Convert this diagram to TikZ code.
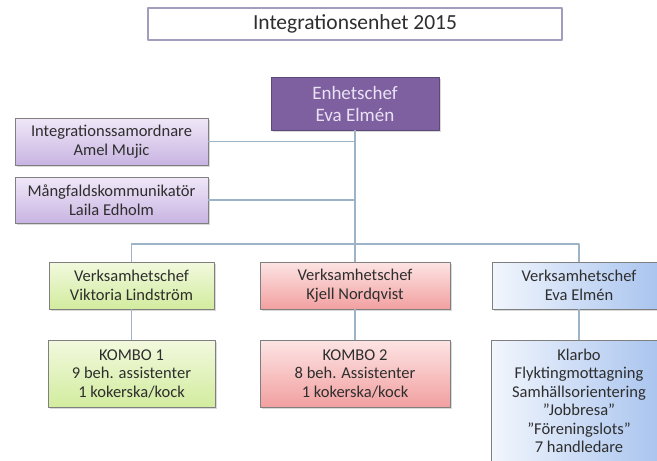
\documentclass[tikz,border=0pt]{standalone}
\usepackage{fontspec}
\setmainfont{Carlito}
\usepackage{tikz}
\usetikzlibrary{shadows}

\definecolor{titleedge}{HTML}{A49CBC}
\definecolor{chefpurple}{HTML}{7E60A0}
\definecolor{chefedge}{HTML}{5B4A78}
\definecolor{cheftext}{HTML}{EAE2F4}
\definecolor{stafftop}{HTML}{F0E8F8}
\definecolor{staffbot}{HTML}{C8B4E2}
\definecolor{greentop}{HTML}{F2F9DE}
\definecolor{greenbot}{HTML}{D2EC9E}
\definecolor{redtop}{HTML}{FDE4E4}
\definecolor{redbot}{HTML}{F2A0A0}
\definecolor{blueleft}{HTML}{F2F6FD}
\definecolor{blueright}{HTML}{A6C2EE}
\definecolor{boxedge}{HTML}{7F7F7F}
\definecolor{boxtext}{HTML}{2E2E2E}
\definecolor{linkline}{HTML}{9DB3C8}

\begin{document}
\begin{tikzpicture}[x=1pt, y=-1pt, line cap=round, line join=round,
    box/.style={draw=boxedge, line width=0.8pt, align=center, inner sep=0pt, text=boxtext,
        font=\fontsize{16.5}{18.5}\selectfont,
        drop shadow={opacity=0.3, shadow xshift=1.5pt, shadow yshift=-1.5pt}},
    staffbox/.style={box, top color=stafftop, bottom color=staffbot},
    greenbox/.style={box, top color=greentop, bottom color=greenbot},
    redbox/.style={box, top color=redtop, bottom color=redbot},
    bluebox/.style={box, left color=blueleft, right color=blueright},
    link/.style={draw=linkline, line width=1.3pt}]
                % frame
                \useasboundingbox (0,0) rectangle (657,461);
                \clip (0,0) rectangle (657,461);
                % heading
                \node[draw=titleedge, line width=1.8pt, fill=white, minimum width=414pt, minimum height=32pt,
                      text=boxtext, font=\fontsize{21.5}{24}\selectfont] (title) at (355,24) {Integrationsenhet 2015};
                % unit head
                \node[box, draw=chefedge, fill=chefpurple, text=cheftext, minimum width=168pt, minimum height=53pt,
                      font=\fontsize{19}{22}\selectfont] (chef) at (355,103.5) {Enhetschef\\Eva Elmén};
                % staff functions
                \node[staffbox, minimum width=193pt, minimum height=47pt] (amel) at (111.5,141.5) {Integrationssamordnare\\Amel Mujic};
                \node[staffbox, minimum width=193pt, minimum height=46pt] (laila) at (111.5,200) {Mångfaldskommunikatör\\Laila Edholm};
                % business heads
                \node[greenbox, minimum width=165pt, minimum height=47pt] (vlind) at (131.5,285.5) {Verksamhetschef\\Viktoria Lindström};
                \node[redbox, minimum width=190pt, minimum height=47pt] (knord) at (355,285.5) {Verksamhetschef\\Kjell Nordqvist};
                \node[bluebox, minimum width=174pt, minimum height=47pt] (eelmen) at (579,285.5) {Verksamhetschef\\Eva Elmén};
                % units
                \node[greenbox, minimum width=167pt, minimum height=67pt] (kombo1) at (131.5,373.5) {KOMBO 1\\9 beh. assistenter\\1 kokerska/kock};
                \node[redbox, minimum width=190pt, minimum height=67pt] (kombo2) at (355,373.5) {KOMBO 2\\8 beh. Assistenter\\1 kokerska/kock};
                \node[bluebox, minimum width=176pt, minimum height=122pt] (klarbo) at (579,401)
                      {Klarbo\\Flyktingmottagning\\Samhällsorientering\\”Jobbresa”\\”Föreningslots”\\7 handledare};
                % connectors
                \coordinate (split) at (355,244);
                \draw[link] (chef.south) -- (split);
                \draw[link] (amel.east) -- (amel.east -| chef.south);
                \draw[link] (laila.east) -- (laila.east -| chef.south);
                \draw[link] (vlind.north) |- (split) -| (eelmen.north);
                \draw[link] (split) -- (knord.north);
                \draw[link] (vlind.south) -- (kombo1.north);
                \draw[link] (knord.south) -- (kombo2.north);
                \draw[link] (eelmen.south) -- (klarbo.north);
        \end{tikzpicture}
\end{document}
